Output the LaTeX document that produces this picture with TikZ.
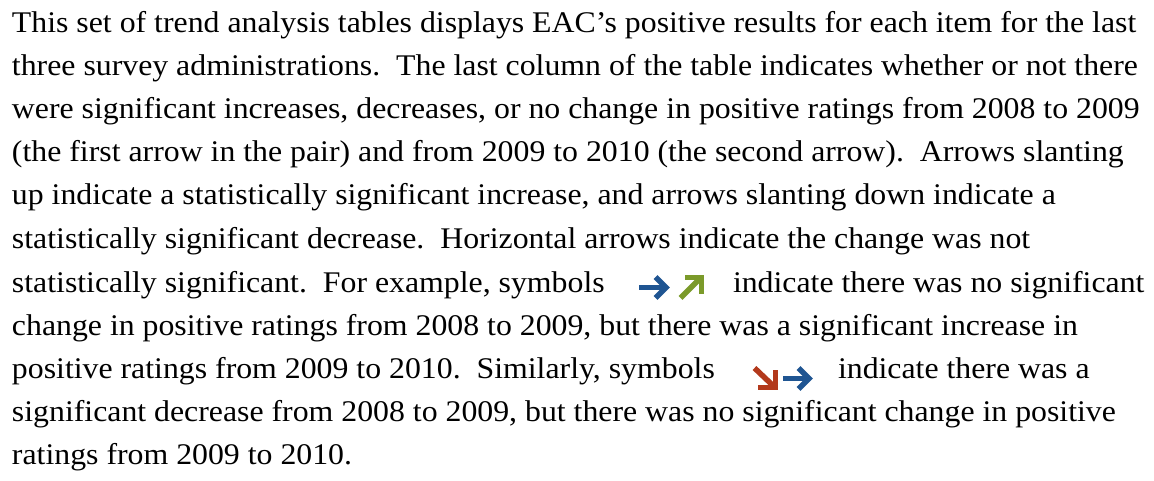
\documentclass[tikz,border=0pt]{standalone}
\usepackage{fontspec}
\setmainfont{Liberation Serif}[FakeStretch=1.06]
\definecolor{arrblue}{HTML}{1F5592}
\definecolor{arrgreen}{HTML}{7B9A2A}
\definecolor{arrred}{HTML}{B3391C}
\tikzset{
  txt/.style={anchor=base west, inner sep=0pt, outer sep=0pt, font=\fontsize{30}{43}\selectfont},
  arrline/.style={line width=5.5pt, line join=miter, line cap=butt},
}
\begin{document}
\begin{tikzpicture}[x=1pt,y=-1pt]
\useasboundingbox (0,0) rectangle (1154,480);
\node[txt] (l1) at (12,32) {This set of trend analysis tables displays EAC’s positive results for each item for the last};
\node[txt] (l2) at (12,75) {three survey administrations.\ \ The last column of the table indicates whether or not there};
\node[txt] (l3) at (12,118) {were significant increases, decreases, or no change in positive ratings from 2008 to 2009};
\node[txt] (l4) at (12,161) {(the first arrow in the pair) and from 2009 to 2010 (the second arrow).\ \ Arrows slanting};
\node[txt] (l5) at (12,204) {up indicate a statistically significant increase, and arrows slanting down indicate a};
\node[txt] (l6) at (12,248) {statistically significant decrease.\ \ Horizontal arrows indicate the change was not};
\node[txt] (l7a) at (12,292) {statistically significant.\ \ For example, symbols};
\node[txt] (l7b) at (733,292) {indicate there was no significant};
\node[txt] (l8) at (12,335) {change in positive ratings from 2008 to 2009, but there was a significant increase in};
\node[txt] (l9a) at (12,378) {positive ratings from 2009 to 2010.\ \ Similarly, symbols};
\node[txt] (l9b) at (838,378) {indicate there was a};
\node[txt] (l10) at (12,421) {significant decrease from 2008 to 2009, but there was no significant change in positive};
\node[txt] (l11) at (12,464) {ratings from 2009 to 2010.};
% first pair: right, up-right
\coordinate (b1s) at (639,287.5);
\coordinate (b1e) at (666,287.5);
\coordinate (b1u) at (655.5,277);
\coordinate (b1d) at (655.5,298);
\draw[arrline, arrblue] (b1s) -- (b1e);
\draw[arrline, arrblue] (b1u) -- (b1e) -- (b1d);
\coordinate (g1s) at (680.5,298);
\coordinate (g1e) at (701,277.5);
\coordinate (g1c) at (701.5,277.5);
\coordinate (g1l) at (685,277.5);
\coordinate (g1b) at (701.5,294);
\draw[arrline, arrgreen] (g1s) -- (g1e);
\draw[arrline, arrgreen] (g1l) -- (g1c) -- (g1b);
% second pair: down-right, right
\coordinate (r1s) at (754.5,368);
\coordinate (r1e) at (775,387.5);
\coordinate (r1c) at (775.5,387.5);
\coordinate (r1l) at (758,387.5);
\coordinate (r1t) at (775.5,370);
\draw[arrline, arrred] (r1s) -- (r1e);
\draw[arrline, arrred] (r1l) -- (r1c) -- (r1t);
\coordinate (b2s) at (783,378.5);
\coordinate (b2e) at (809,378.5);
\coordinate (b2u) at (798.5,368);
\coordinate (b2d) at (798.5,389);
\draw[arrline, arrblue] (b2s) -- (b2e);
\draw[arrline, arrblue] (b2u) -- (b2e) -- (b2d);
\end{tikzpicture}
\end{document}
